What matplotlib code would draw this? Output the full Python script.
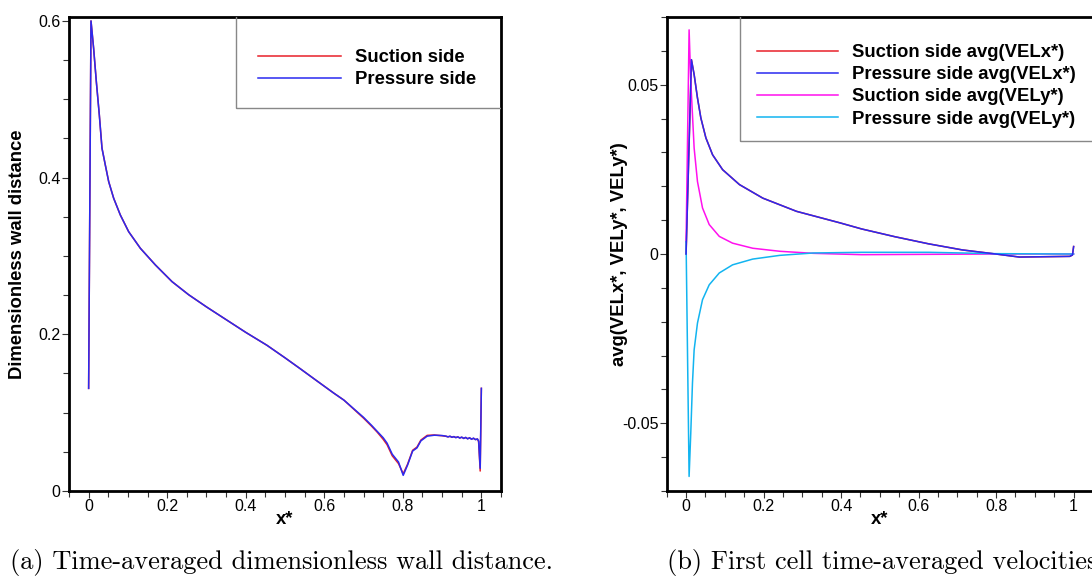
import matplotlib
matplotlib.use("Agg")
import matplotlib.pyplot as plt
from matplotlib.ticker import MultipleLocator, FuncFormatter, FixedLocator
from matplotlib.patches import Rectangle

plt.rcParams['font.family'] = ['Liberation Sans', 'DejaVu Sans']

# ---------------- data: panel (a) ----------------
x_a = [0.0, 0.006, 0.0127, 0.0196, 0.0272, 0.034, 0.0425, 0.051, 0.0637, 0.0807, 0.1019,
       0.1317, 0.170, 0.2124, 0.2547, 0.30, 0.34, 0.40, 0.454, 0.50, 0.539, 0.58, 0.624,
       0.650, 0.700, 0.720, 0.735, 0.750, 0.760, 0.773, 0.789, 0.801,
       0.812, 0.825, 0.836, 0.846, 0.862, 0.880, 0.900, 0.910, 0.915, 0.920, 0.925,
       0.930, 0.935, 0.940, 0.945, 0.950, 0.955, 0.960, 0.965, 0.970, 0.975, 0.980,
       0.985, 0.990, 0.993, 0.997, 1.0]
pressure_a = [0.131, 0.600, 0.565, 0.5225, 0.480, 0.4375, 0.416, 0.395, 0.3737, 0.3523, 0.331,
              0.3098, 0.2885, 0.2672, 0.2505, 0.235, 0.222, 0.2025, 0.186, 0.170, 0.156, 0.141, 0.125,
              0.116, 0.094, 0.084, 0.076, 0.068, 0.061, 0.047, 0.037, 0.020,
              0.033, 0.051, 0.055, 0.064, 0.070, 0.0712, 0.0708, 0.0700, 0.0690, 0.0700, 0.0685,
              0.0695, 0.0680, 0.0692, 0.0675, 0.0688, 0.0670, 0.0685, 0.0665, 0.0680, 0.0660, 0.0675,
              0.0655, 0.0665, 0.0640, 0.0290, 0.131]
suction_a = [0.131, 0.600, 0.565, 0.5225, 0.480, 0.4375, 0.416, 0.395, 0.3737, 0.3523, 0.331,
             0.3098, 0.2885, 0.2672, 0.2505, 0.235, 0.222, 0.2025, 0.186, 0.170, 0.156, 0.141, 0.125,
             0.116, 0.093, 0.083, 0.075, 0.066, 0.059, 0.045, 0.035, 0.022,
             0.034, 0.052, 0.056, 0.065, 0.071, 0.0715, 0.0705, 0.0698, 0.0692, 0.0697, 0.0688,
             0.0692, 0.0684, 0.0689, 0.0679, 0.0685, 0.0674, 0.0681, 0.0669, 0.0676, 0.0664, 0.0671,
             0.0658, 0.0662, 0.0630, 0.0255, 0.131]

# ---------------- data: panel (b) ----------------
x_velx = [0.0, 0.0138, 0.0208, 0.0294, 0.0381, 0.0511, 0.0684, 0.0943, 0.1377, 0.198, 0.285,
          0.397, 0.453, 0.539, 0.626, 0.713, 0.799, 0.860, 0.990, 0.997, 1.0]
suction_velx = [0.0, 0.0574, 0.0530, 0.0461, 0.0402, 0.0343, 0.0293, 0.0249, 0.0205, 0.0165, 0.0126,
                0.0092, 0.0074, 0.0051, 0.0030, 0.0012, 0.0000, -0.0009, -0.0007, -0.0003, 0.0022]
pressure_velx = [0.0, 0.0574, 0.0530, 0.0461, 0.0402, 0.0343, 0.0293, 0.0249, 0.0205, 0.0165, 0.0126,
                 0.0092, 0.0074, 0.0051, 0.0030, 0.0012, 0.0000, -0.0009, -0.0007, -0.0003, 0.0022]

x_vely = [0.0, 0.0078, 0.0121, 0.0165, 0.0208, 0.0294, 0.0424, 0.0597, 0.0857, 0.120, 0.172,
          0.242, 0.328, 0.453, 0.626, 0.799, 0.990, 1.0]
suction_vely = [0.0036, 0.0662, 0.0510, 0.0411, 0.0313, 0.0214, 0.0136, 0.0087, 0.0052, 0.0032, 0.0017,
                0.0008, 0.0002, -0.0002, -0.0001, 0.0, 0.0, 0.0]
pressure_vely = [0.0036, -0.0657, -0.0529, -0.0381, -0.0283, -0.0204, -0.0135, -0.0091, -0.0056, -0.0032, -0.0015,
                 -0.0004, 0.0003, 0.0005, 0.0005, 0.0001, 0.0, 0.0]

legend_a = ["Suction side", "Pressure side"]
legend_b = ["Suction side avg(VELx*)", "Pressure side avg(VELx*)",
            "Suction side avg(VELy*)", "Pressure side avg(VELy*)"]

W, H = 1092, 576
fig = plt.figure(figsize=(W / 100, H / 100), dpi=100)


def px_axes(l, t, r, b):
    return fig.add_axes([l / W, 1 - b / H, (r - l) / W, (b - t) / H])


fmt = FuncFormatter(lambda v, p: f"{v:g}")


def style(ax):
    for s in ax.spines.values():
        s.set_linewidth(2.0)
    ax.tick_params(which='both', direction='out', top=False, right=False,
                   labelsize=11.5, pad=1, width=0.8, color='#333333')
    ax.tick_params(which='major', length=5)
    ax.tick_params(which='minor', length=4)
    ax.xaxis.set_major_locator(FixedLocator([0, 0.2, 0.4, 0.6, 0.8, 1.0]))
    ax.xaxis.set_minor_locator(MultipleLocator(0.05))
    ax.xaxis.set_major_formatter(fmt)
    ax.yaxis.set_major_formatter(fmt)
    ax.set_xlim(-0.05, 1.05)


# ---------------- panel (a) ----------------
ax1 = px_axes(69, 17, 501, 491)
style(ax1)
ax1.set_ylim(0, 0.605)
ax1.yaxis.set_major_locator(FixedLocator([0, 0.2, 0.4, 0.6]))
ax1.yaxis.set_minor_locator(MultipleLocator(0.05))
l1, = ax1.plot(x_a, suction_a, color='#e8202a', lw=1.1, label=legend_a[0])
l2, = ax1.plot(x_a, pressure_a, color='#2a2af0', lw=1.1, label=legend_a[1])
ax1.set_ylabel("Dimensionless wall distance", fontsize=13.3, fontweight='bold',
               ha='center', va='center')
ax1.yaxis.set_label_coords(-(69 - 18) / 432, 0.5)
ax1.set_xlabel("x*", fontsize=13.3, fontweight='bold', ha='center', va='center')
ax1.xaxis.set_label_coords(0.5, -29 / 474)
ax1.add_patch(Rectangle(((235.7 - 69) / 432, (491 - 108) / 474), 1.0, 1.0,
                        transform=ax1.transAxes, fill=False, edgecolor='#888888',
                        lw=1.0, clip_on=True, zorder=3))
ax1.legend(handles=[l1, l2], loc='upper left', frameon=False,
           bbox_to_anchor=((258 - 69) / 432, (491 - 49) / 474),
           borderpad=0, borderaxespad=0, handlelength=4.5, handletextpad=0.75,
           labelspacing=0.27, prop={'weight': 'bold', 'size': 13.3})

# ---------------- panel (b) ----------------
ax2 = px_axes(666.7, 17, 1093, 491)
style(ax2)
ax2.set_ylim(-0.07, 0.07)
ax2.yaxis.set_major_locator(FixedLocator([-0.05, 0, 0.05]))
ax2.yaxis.set_minor_locator(MultipleLocator(0.01))
m1, = ax2.plot(x_velx, suction_velx, color='#e8202a', lw=1.1, label=legend_b[0])
m3, = ax2.plot(x_vely, suction_vely, color='#ff10ee', lw=1.1, label=legend_b[2])
m4, = ax2.plot(x_vely, pressure_vely, color='#12b4f0', lw=1.1, label=legend_b[3])
m2, = ax2.plot(x_velx, pressure_velx, color='#2a2af0', lw=1.1, label=legend_b[1])
ax2.set_ylabel("avg(VELx*, VELy*, VELy*)", fontsize=13.3, fontweight='bold',
               ha='center', va='center')
ax2.yaxis.set_label_coords(-(666.7 - 620) / 426.3, 0.5)
ax2.set_xlabel("x*", fontsize=13.3, fontweight='bold', ha='center', va='center')
ax2.xaxis.set_label_coords(0.5, -29 / 474)
ax2.add_patch(Rectangle(((740.3 - 666.7) / 426.3, (491 - 141) / 474), 1.0, 1.0,
                        transform=ax2.transAxes, fill=False, edgecolor='#888888',
                        lw=1.0, clip_on=True, zorder=3))
ax2.legend(handles=[m1, m2, m3, m4], loc='upper left', frameon=False,
           bbox_to_anchor=((756.7 - 666.7) / 426.3, (491 - 44) / 474),
           borderpad=0, borderaxespad=0, handlelength=4.4, handletextpad=0.78,
           labelspacing=0.28, prop={'weight': 'bold', 'size': 13.3})

# ---------------- captions ----------------
fig.text(10 / W, 1 - 562 / H, "(a) Time-averaged dimensionless wall distance.",
         family='cmr10', fontsize=19, ha='left', va='center')
fig.text(667 / W, 1 - 562 / H, "(b) First cell time-averaged velocities.",
         family='cmr10', fontsize=19, ha='left', va='center')

fig.savefig("out.png", dpi=100)
